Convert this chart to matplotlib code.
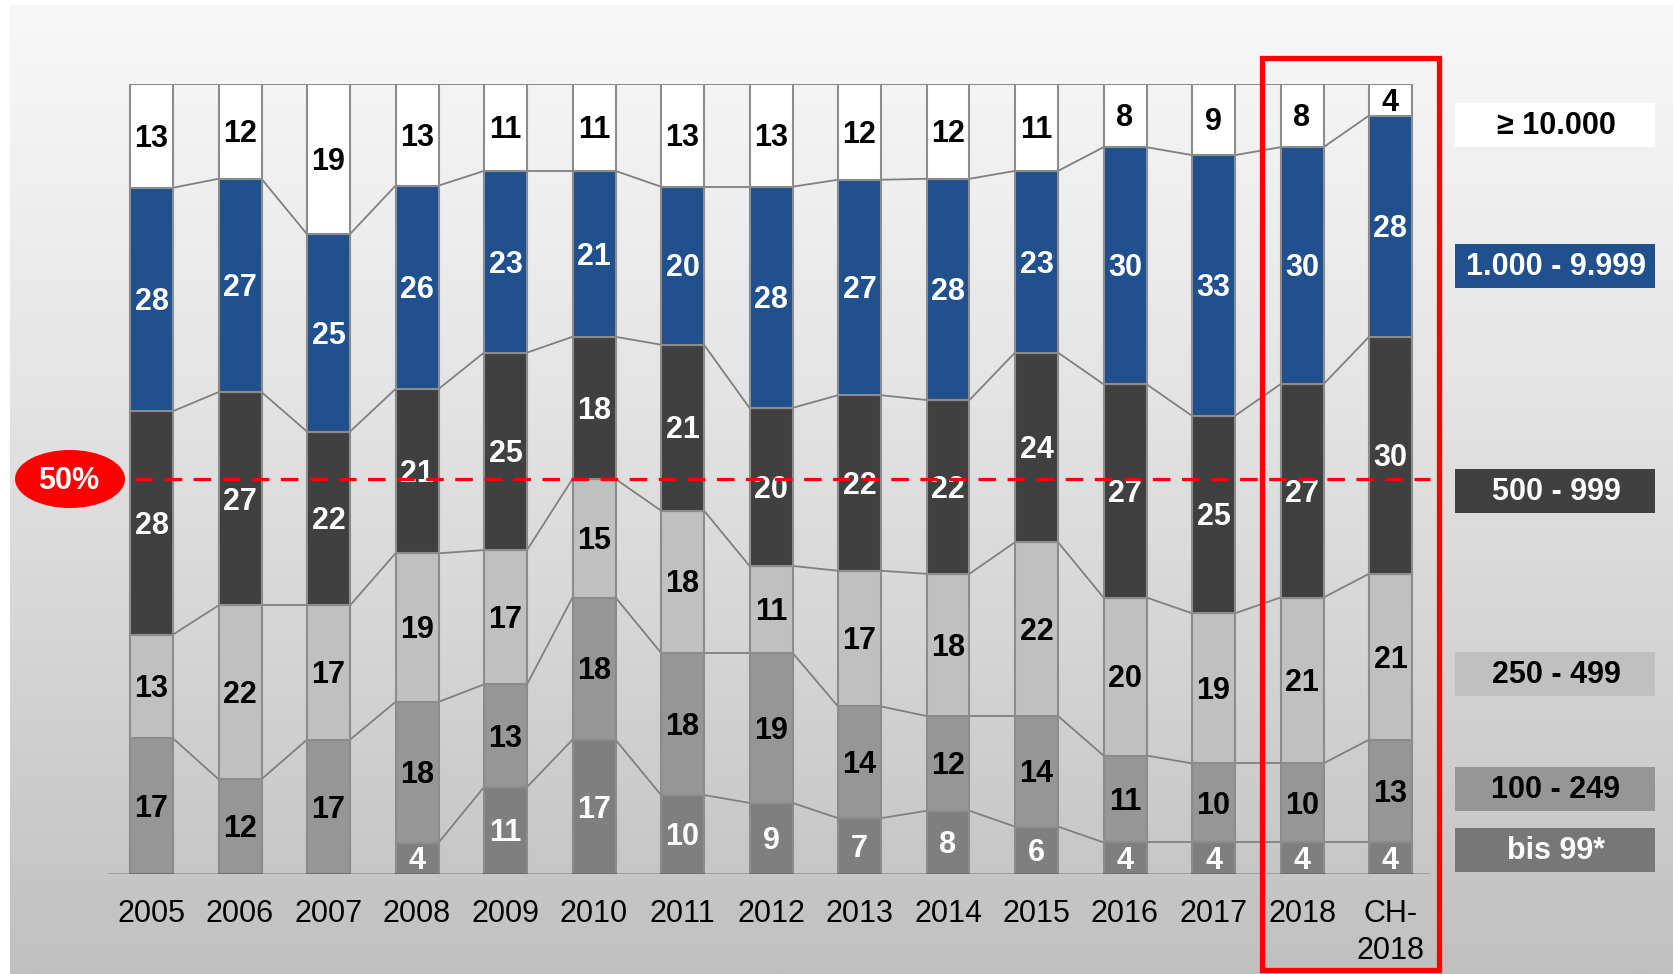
import matplotlib
matplotlib.use('Agg')
import matplotlib.pyplot as plt
import numpy as np
from matplotlib.patches import Rectangle, Ellipse

plt.rcParams['font.family'] = ['Liberation Sans', 'DejaVu Sans']

# ---------------- data ----------------
categories = ['2005', '2006', '2007', '2008', '2009', '2010', '2011', '2012',
              '2013', '2014', '2015', '2016', '2017', '2018', 'CH-\n2018']
bis_99 = [0, 0, 0, 4, 11, 17, 10, 9, 7, 8, 6, 4, 4, 4, 4]
s100_249 = [17, 12, 17, 18, 13, 18, 18, 19, 14, 12, 14, 11, 10, 10, 13]
s250_499 = [13, 22, 17, 19, 17, 15, 18, 11, 17, 18, 22, 20, 19, 21, 21]
s500_999 = [28, 27, 22, 21, 25, 18, 21, 20, 22, 22, 24, 27, 25, 27, 30]
s1000_9999 = [28, 27, 25, 26, 23, 21, 20, 28, 27, 28, 23, 30, 33, 30, 28]
s10000 = [13, 12, 19, 13, 11, 11, 13, 13, 12, 12, 11, 8, 9, 8, 4]
series_labels = ['bis 99*', '100 - 249', '250 - 499', '500 - 999',
                 '1.000 - 9.999', '≥ 10.000']
reference_line = 50

# ---------------- style ----------------
colors = ['#7f7f7f', '#969696', '#c0c0c0', '#404040', '#21508f', '#ffffff']
text_colors = ['white', 'black', 'black', 'white', 'white', 'black']
legend_colors = ['#777777', '#969696', '#c0c0c0', '#404040', '#21508f', '#ffffff']
legend_centers_y = [850, 789, 674, 491, 266, 125]  # pixel rows (from top)

W, H = 1673, 974
fig = plt.figure(figsize=(W / 100, H / 100), dpi=100)
fig.patch.set_facecolor('white')

# background gradient panel
bg = fig.add_axes([0, 0, 1, 1], zorder=0)
bg.set_xlim(0, W)
bg.set_ylim(H, 0)
bg.axis('off')
t = np.linspace(0, 1, 400)
vals = 247 - 55 * t ** 1.15
grad = np.repeat((vals / 255.0)[:, None], 3, axis=1)[:, None, :]
bg.imshow(grad, extent=(10, W, H, 5), aspect='auto', interpolation='bilinear')

# main axes
x_step = 88.5
x0_pix = 151.5
ax_left, ax_right = 108, 1430
ax_bottom_pix, ax_top_pix = 874, 84
ax = fig.add_axes([ax_left / W, (H - ax_bottom_pix) / H,
                   (ax_right - ax_left) / W, (ax_bottom_pix - ax_top_pix) / H],
                  zorder=1)
ax.patch.set_alpha(0)
ax.set_xlim((ax_left - x0_pix) / x_step, (ax_right - x0_pix) / x_step)
ax.set_ylim(0, 100)
for s in ax.spines.values():
    s.set_visible(False)
ax.set_yticks([])

series = [bis_99, s100_249, s250_499, s500_999, s1000_9999, s10000]
data = np.array(series, dtype=float)
totals = data.sum(axis=0)
norm = data / totals * 100.0
x = np.arange(len(categories))
bw = 43 / x_step

bottoms = np.zeros(len(categories))
levels = []
for k in range(len(series)):
    ax.bar(x, norm[k], bw, bottom=bottoms, color=colors[k],
           edgecolor='#8c8c8c', linewidth=1.5, zorder=3)
    for i in range(len(categories)):
        v = series[k][i]
        if v > 0:
            ax.text(x[i], bottoms[i] + norm[k][i] / 2 - 0.35, str(v),
                    ha='center', va='center', fontsize=22, fontweight='bold',
                    color=text_colors[k], zorder=5)
    bottoms = bottoms + norm[k]
    levels.append(bottoms.copy())

# connector lines between bars
for k, lev in enumerate(levels):
    for i in range(len(categories) - 1):
        if series[k][i] == 0 or series[k][i + 1] == 0:
            continue
        ax.plot([x[i] + bw / 2, x[i + 1] - bw / 2], [lev[i], lev[i + 1]],
                color='#808080', lw=1.3, zorder=2, solid_capstyle='butt')

# baseline
ax.axhline(0, color='black', lw=1.0, zorder=4)

# 50% line
ax.plot([(135 - x0_pix) / x_step, (1430 - x0_pix) / x_step],
        [reference_line, reference_line], color='#ff0000', lw=2.3,
        dashes=(5.5, 3.6), zorder=6, clip_on=False)

ax.set_xticks(x)
ax.set_xticklabels(categories, fontsize=22, linespacing=1.32)
ax.tick_params(axis='x', length=0, pad=18)

# overlay for annotations
ov = fig.add_axes([0, 0, 1, 1], zorder=10)
ov.set_xlim(0, W)
ov.set_ylim(H, 0)
ov.axis('off')
ov.patch.set_alpha(0)

ov.add_patch(Ellipse((70, 479), 110, 58, facecolor='#ff0000', edgecolor='none'))
ov.text(69, 481, '50%', ha='center', va='center', fontsize=22,
        fontweight='bold', color='white')

ov.add_patch(Rectangle((1262.5, 57.5), 177, 912, facecolor='none',
                       edgecolor='#ff0000', lw=3.8))

for k in range(len(series_labels)):
    cy = legend_centers_y[k]
    ov.add_patch(Rectangle((1455, cy - 22), 200, 44,
                           facecolor=legend_colors[k], edgecolor='none'))
    ov.text(1556, cy + 1, series_labels[k], ha='center', va='center',
            fontsize=22, fontweight='bold', color=text_colors[k])

fig.savefig('out.png', dpi=100, facecolor=fig.get_facecolor())
